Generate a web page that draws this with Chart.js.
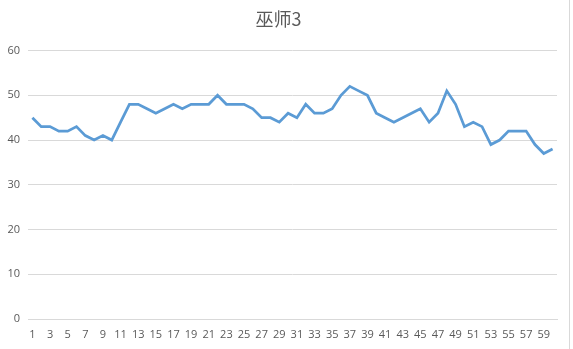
<!DOCTYPE html>
<html>
<head>
<meta charset="utf-8">
<script src="https://cdn.jsdelivr.net/npm/chart.js@4/dist/chart.umd.min.js"></script>
<style>
  html, body { margin: 0; padding: 0; background: #fff; }
  #wrap { width: 569px; height: 349px; border-right: 1px solid #d9d9d9; }
</style>
</head>
<body>
<div id="wrap"><canvas id="line" width="569" height="349"></canvas></div>
<script>
  // data
  const chartTitle = '巫师3';
  const categories = [];
  for (let i = 1; i <= 60; i++) categories.push(String(i));
  const values = [
    45, 43, 43, 42, 42, 43, 41, 40, 41, 40,
    44, 48, 48, 47, 46, 47, 48, 47, 48, 48,
    48, 50, 48, 48, 48, 47, 45, 45, 44, 46,
    45, 48, 46, 46, 47, 50, 52, 51, 50, 46,
    45, 44, 45, 46, 47, 44, 46, 51, 48, 43,
    44, 43, 39, 40, 42, 42, 42, 39, 37, 38
  ];
  const yTicks = [0, 10, 20, 30, 40, 50, 60];

  const tickFont = { family: "'Open Sans', 'Noto Sans', sans-serif", size: 11 };

  const lineConfig = {
    type: 'line',
    data: {
      labels: categories,
      datasets: [
        {
          label: chartTitle,
          borderColor: '#5b9bd5',
          backgroundColor: '#5b9bd5',
          borderWidth: 2.75,
          pointRadius: 0,
          tension: 0,
          data: values,
          fill: false,
        },
      ],
    },
    options: {
      responsive: false,
      animation: false,
      layout: { padding: { left: 0, right: 12, top: 0, bottom: 0 } },
      plugins: {
        legend: { display: false },
        tooltip: { enabled: false },
        title: {
          display: true,
          text: chartTitle,
          color: '#595959',
          font: { family: "'Noto Sans CJK SC', sans-serif", size: 18, weight: 'normal' },
          padding: { top: 8, bottom: 21 },
        },
      },
      scales: {
        x: {
          offset: true,
          grid: { display: false },
          border: { color: '#d9d9d9' },
          ticks: {
            autoSkip: false,
            maxRotation: 0,
            color: '#595959',
            font: tickFont,
            padding: 1,
            callback: function (val, idx) {
              return idx % 2 === 0 ? this.getLabelForValue(val) : '';
            },
          },
          afterFit: scale => { scale.height = 30; },
        },
        y: {
          min: 0,
          max: 60,
          afterBuildTicks: scale => { scale.ticks = yTicks.map(v => ({ value: v })); },
          grid: { color: '#d9d9d9', drawTicks: false },
          border: { display: false },
          ticks: { color: '#595959', font: tickFont, padding: 8 },
          afterFit: scale => { scale.width = 28; },
        },
      },
    },
  };

  const lineCtx = document.getElementById('line');
  window.myLine = new Chart(lineCtx, lineConfig);
</script>
</body>
</html>
